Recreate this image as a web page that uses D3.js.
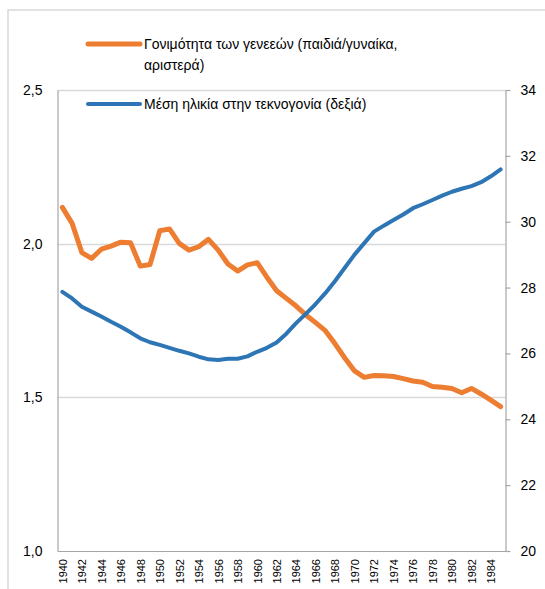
<!DOCTYPE html>
<html><head><meta charset="utf-8">
<script src="https://cdn.jsdelivr.net/npm/d3@7"></script>
<style>
html,body{margin:0;padding:0;background:#fff;}
svg{display:block;}
text{font-family:"Liberation Sans",Arial,sans-serif;fill:#000;}
</style></head>
<body><svg id="c" width="545" height="589"></svg>
<script>
const years = [1940,1941,1942,1943,1944,1945,1946,1947,1948,1949,
  1950,1951,1952,1953,1954,1955,1956,1957,1958,1959,
  1960,1961,1962,1963,1964,1965,1966,1967,1968,1969,
  1970,1971,1972,1973,1974,1975,1976,1977,1978,1979,
  1980,1981,1982,1983,1984,1985];
const xTickLabels = [1940,1942,1944,1946,1948,1950,1952,1954,1956,1958,1960,1962,1964,1966,1968,1970,1972,1974,1976,1978,1980,1982,1984];
const fertility = [2.118,2.066,1.971,1.952,1.982,1.992,2.005,2.003,1.927,1.932,
  2.042,2.048,2.001,1.979,1.990,2.014,1.979,1.934,1.911,1.931,
  1.938,1.891,1.847,1.822,1.797,1.768,1.743,1.717,1.674,1.628,
  1.586,1.565,1.571,1.570,1.568,1.561,1.553,1.549,1.535,1.533,
  1.529,1.515,1.529,1.511,1.491,1.470];
const meanAge = [27.87,27.67,27.42,27.27,27.12,26.96,26.81,26.64,26.46,26.34,
  26.26,26.17,26.08,26.00,25.90,25.82,25.80,25.84,25.84,25.91,
  26.05,26.17,26.33,26.60,26.92,27.20,27.50,27.83,28.20,28.60,
  29.00,29.35,29.70,29.88,30.05,30.22,30.41,30.53,30.66,30.79,
  30.91,31.00,31.08,31.20,31.38,31.59];
const leftTicks = [1.0,1.5,2.0,2.5];
const rightTicks = [20,22,24,26,28,30,32,34];
const seriesNames = ["Γονιμότητα των γενεεών (παιδιά/γυναίκα,", "αριστερά)", "Μέση ηλικία στην τεκνογονία (δεξιά)"];
const colors = {fert:"#ED7D31", age:"#2E75B6"};

const svg = d3.select("#c");
const L = 57.5, R = 505.5, T = 90, B = 551;

// chart area border
svg.append("rect").attr("x",8).attr("y",10).attr("width",600).attr("height",600)
  .attr("fill","none").attr("stroke","#D9D9D9").attr("stroke-width",1.5);

const x = d3.scalePoint().domain(years).range([L, R]).padding(0.5);
const yL = d3.scaleLinear().domain([1.0,2.5]).range([B, T]);
const yR = d3.scaleLinear().domain([20,34]).range([B, T]);

// gridlines
svg.append("g").selectAll("line").data(leftTicks.filter(d=>d>1.0)).join("line")
  .attr("x1",L).attr("x2",R).attr("y1",d=>Math.round(yL(d))+0.5).attr("y2",d=>Math.round(yL(d))+0.5)
  .attr("stroke","#D9D9D9").attr("stroke-width",1.5);

// left axis
const gL = svg.append("g").attr("transform",`translate(${L},0)`)
  .call(d3.axisLeft(yL).tickValues(leftTicks).tickSize(0).tickPadding(15)
    .tickFormat(d=>d3.format(".1f")(d).replace(".",",")));
gL.select(".domain").attr("stroke","#A6A6A6").attr("stroke-width",1.2);
gL.selectAll("text").style("font-size","14px").attr("fill","#000");

// right axis
const gR = svg.append("g").attr("transform",`translate(${R},0)`)
  .call(d3.axisRight(yR).tickValues(rightTicks).tickSize(5).tickPadding(10).tickSizeOuter(0));
gR.select(".domain").attr("stroke","#A6A6A6").attr("stroke-width",1.2);
gR.selectAll(".tick line").attr("stroke","#A6A6A6").attr("stroke-width",1.2);
gR.selectAll("text").style("font-size","14px").attr("fill","#000");

// bottom axis
const gB = svg.append("g").attr("transform",`translate(0,${B})`)
  .call(d3.axisBottom(x).tickValues(xTickLabels).tickSize(0).tickSizeOuter(0).tickPadding(0));
gB.select(".domain").attr("stroke","#A6A6A6").attr("stroke-width",1.2);
gB.selectAll("text").style("font-size","11px").attr("fill","#000")
  .attr("text-anchor","end").attr("dy","0.35em")
  .attr("transform","translate(0,8) rotate(-90)").attr("x",0).attr("y",0);

// lines
const lineF = d3.line().x((d,i)=>x(years[i])).y(d=>yL(d));
const lineA = d3.line().x((d,i)=>x(years[i])).y(d=>yR(d));
svg.append("path").datum(fertility).attr("d",lineF).attr("fill","none")
  .attr("stroke",colors.fert).attr("stroke-width",5).attr("stroke-linejoin","round").attr("stroke-linecap","round");
svg.append("path").datum(meanAge).attr("d",lineA).attr("fill","none")
  .attr("stroke",colors.age).attr("stroke-width",4).attr("stroke-linejoin","round").attr("stroke-linecap","round");

// legend
const lg = svg.append("g");
lg.append("line").attr("x1",88).attr("x2",140).attr("y1",44).attr("y2",44)
  .attr("stroke",colors.fert).attr("stroke-width",5).attr("stroke-linecap","round");
lg.append("text").attr("x",144).attr("y",49).style("font-size","14px").text(seriesNames[0]);
lg.append("text").attr("x",144).attr("y",70).style("font-size","14px").text(seriesNames[1]);
lg.append("line").attr("x1",88).attr("x2",140).attr("y1",104).attr("y2",104)
  .attr("stroke",colors.age).attr("stroke-width",4).attr("stroke-linecap","round");
lg.append("text").attr("x",144).attr("y",109).style("font-size","14px").text(seriesNames[2]);
</script></body></html>
